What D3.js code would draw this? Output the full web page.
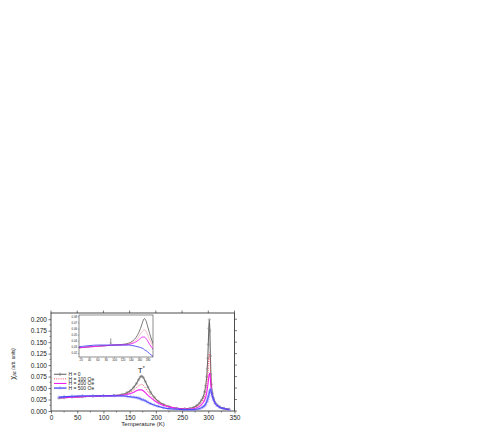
<!DOCTYPE html>
<html>
<head>
<meta charset="utf-8">
<script src="https://cdn.jsdelivr.net/npm/d3@7"></script>
<style>
  body { margin: 0; background: #fff; }
  text { font-family: Arial, "Liberation Sans", sans-serif; fill: #222; }
</style>
</head>
<body>
<svg id="chart"></svg>
<script>
// temperatures (K) shared by all four field curves
const temps = [15, 25, 40, 60, 80, 100, 120, 135, 145, 152, 158, 163, 167, 170, 173, 176, 180, 185, 190, 197,
  205, 215, 225, 240, 255, 265, 272, 278, 283, 287, 290, 293, 295, 297, 298, 299, 300, 301, 302, 303,
  304, 305, 306, 308, 310, 313, 317, 322, 330, 340];

const h0 = [0.028, 0.029, 0.030, 0.031, 0.032, 0.033, 0.034, 0.036, 0.040, 0.045, 0.052, 0.060, 0.068, 0.074, 0.076, 0.073, 0.064, 0.052, 0.041, 0.030,
  0.021, 0.014, 0.010, 0.006, 0.005, 0.006, 0.008, 0.012, 0.017, 0.024, 0.030, 0.042, 0.055, 0.075, 0.092, 0.115, 0.145, 0.180, 0.199, 0.175,
  0.120, 0.080, 0.058, 0.038, 0.028, 0.019, 0.013, 0.009, 0.006, 0.004];
const h100 = [0.029, 0.029, 0.030, 0.031, 0.032, 0.033, 0.034, 0.035, 0.038, 0.041, 0.046, 0.051, 0.055, 0.057, 0.058, 0.056, 0.050, 0.042, 0.035, 0.027,
  0.020, 0.014, 0.010, 0.006, 0.005, 0.005, 0.007, 0.010, 0.014, 0.019, 0.024, 0.033, 0.042, 0.056, 0.066, 0.080, 0.098, 0.118, 0.127, 0.118,
  0.090, 0.065, 0.050, 0.034, 0.026, 0.018, 0.012, 0.008, 0.005, 0.004];
const h200 = [0.029, 0.029, 0.030, 0.031, 0.032, 0.033, 0.033, 0.034, 0.036, 0.038, 0.041, 0.044, 0.046, 0.046, 0.046, 0.044, 0.040, 0.034, 0.029, 0.023,
  0.017, 0.012, 0.009, 0.006, 0.004, 0.004, 0.005, 0.007, 0.010, 0.014, 0.018, 0.024, 0.030, 0.040, 0.047, 0.055, 0.064, 0.074, 0.081, 0.082,
  0.070, 0.054, 0.043, 0.031, 0.024, 0.017, 0.011, 0.008, 0.005, 0.003];
const h500 = [0.030, 0.031, 0.032, 0.033, 0.033, 0.033, 0.033, 0.033, 0.032, 0.031, 0.030, 0.029, 0.028, 0.027, 0.025, 0.024, 0.022, 0.019, 0.016, 0.013,
  0.010, 0.007, 0.005, 0.004, 0.003, 0.003, 0.003, 0.004, 0.005, 0.007, 0.009, 0.012, 0.015, 0.020, 0.023, 0.027, 0.031, 0.035, 0.040, 0.044,
  0.047, 0.046, 0.041, 0.032, 0.025, 0.017, 0.012, 0.008, 0.005, 0.003];

const seriesNames = ["H = 0", "H = 100 Oe", "H = 200 Oe", "H = 500 Oe"];
const xTicks = [0, 50, 100, 150, 200, 250, 300, 350];
const yTicks = [0, 0.025, 0.05, 0.075, 0.1, 0.125, 0.15, 0.175, 0.2];
const insetXTicks = [20, 40, 60, 80, 100, 120, 140, 160, 180];
const insetYTicks = [0.02, 0.03, 0.04, 0.05, 0.06, 0.07, 0.08];

const width = 491;
const height = 436;

const svg = d3.select("#chart").attr("width", width).attr("height", height);

const series = [
  { name: seriesNames[0], values: h0, color: "#6a6a6a", width: 1.1, dash: null, marker: "cross" },
  { name: seriesNames[1], values: h100, color: "#f0506a", width: 1, dash: "1,1.2", marker: null },
  { name: seriesNames[2], values: h200, color: "#f020f0", width: 1.1, dash: null, marker: null },
  { name: seriesNames[3], values: h500, color: "#4646f5", width: 1.3, dash: null, marker: "triangle" }
];

const x = d3.scaleLinear().domain([0, 350]).range([51, 234.5]);
const y = d3.scaleLinear().domain([0, 0.2135]).range([411, 313]);

// ticks
const xAxis = svg.append("g").attr("transform", "translate(0,411)")
  .call(d3.axisBottom(x).tickValues(xTicks).tickFormat(d3.format("d")).tickSize(2.5).tickPadding(1.5));
const yAxis = svg.append("g").attr("transform", "translate(51,0)")
  .call(d3.axisLeft(y).tickValues(yTicks).tickFormat(d3.format(".3f")).tickSize(2.5).tickPadding(1.5));
[xAxis, yAxis].forEach((g) => {
  g.select(".domain").remove();
  g.selectAll("line").attr("stroke", "#222").attr("stroke-width", 0.6);
  g.selectAll("text").style("font-size", "6.5px").attr("fill", "#222");
});

// minor ticks
svg.append("g").selectAll("line")
  .data(d3.range(25, 350, 50))
  .join("line")
  .attr("x1", (d) => x(d)).attr("x2", (d) => x(d))
  .attr("y1", 411).attr("y2", 412.5)
  .attr("stroke", "#222").attr("stroke-width", 0.5);
svg.append("g").selectAll("line")
  .data(d3.range(0.0125, 0.2, 0.025))
  .join("line")
  .attr("x1", 49.5).attr("x2", 51)
  .attr("y1", (d) => y(d)).attr("y2", (d) => y(d))
  .attr("stroke", "#222").attr("stroke-width", 0.5);
// mirrored ticks on top and right
svg.append("g").selectAll("line")
  .data(xTicks)
  .join("line")
  .attr("x1", (d) => x(d)).attr("x2", (d) => x(d))
  .attr("y1", 313).attr("y2", 310.5)
  .attr("stroke", "#222").attr("stroke-width", 0.6);
svg.append("g").selectAll("line")
  .data(yTicks)
  .join("line")
  .attr("x1", 234.5).attr("x2", 237)
  .attr("y1", (d) => y(d)).attr("y2", (d) => y(d))
  .attr("stroke", "#222").attr("stroke-width", 0.6);

svg.append("rect")
  .attr("x", 51).attr("y", 313).attr("width", 183.5).attr("height", 98)
  .attr("fill", "none").attr("stroke", "#222").attr("stroke-width", 0.8);

// curves
const line = d3.line()
  .x((d, i) => x(temps[i]))
  .y((d) => y(d))
  .curve(d3.curveMonotoneX);

const curvesG = svg.append("g");
series.forEach((s) => {
  curvesG.append("path")
    .attr("d", line(s.values))
    .attr("fill", "none")
    .attr("stroke", s.color)
    .attr("stroke-width", s.width)
    .attr("stroke-dasharray", s.dash);
  if (s.marker) {
    const sym = d3.symbol()
      .type(s.marker === "cross" ? d3.symbolCross : d3.symbolTriangle)
      .size(s.marker === "cross" ? 3 : 4);
    curvesG.append("g").selectAll("path")
      .data(s.values)
      .join("path")
      .attr("transform", (d, i) => `translate(${x(temps[i])},${y(d)})`)
      .attr("d", sym)
      .attr("fill", "none")
      .attr("stroke", s.marker === "cross" ? "#888" : "#8080ff")
      .attr("stroke-width", 0.4);
  }
});

// legend
const legend = svg.append("g");
const legendY = [0.08, 0.07, 0.06, 0.05];
series.forEach((s, i) => {
  const ly = y(legendY[i]);
  legend.append("line")
    .attr("x1", 54).attr("x2", 66.5).attr("y1", ly).attr("y2", ly)
    .attr("stroke", s.color).attr("stroke-width", s.width)
    .attr("stroke-dasharray", s.dash);
  if (s.marker) {
    legend.append("path")
      .attr("transform", `translate(60,${ly})`)
      .attr("d", d3.symbol().type(s.marker === "cross" ? d3.symbolCross : d3.symbolTriangle).size(4))
      .attr("fill", "none").attr("stroke", s.marker === "cross" ? "#888" : "#8080ff").attr("stroke-width", 0.4);
  }
  legend.append("text")
    .attr("x", 68.5).attr("y", ly + 1.7)
    .style("font-size", "5px")
    .text(s.name);
});

// T* annotation
const tLabel = svg.append("text")
  .attr("x", x(172)).attr("y", y(0.082))
  .attr("text-anchor", "middle")
  .style("font-size", "8px");
tLabel.append("tspan").text("T");
tLabel.append("tspan").attr("dy", -3.5).style("font-size", "5px").text("*");

// axis titles
svg.append("text")
  .attr("x", 143).attr("y", 426)
  .attr("text-anchor", "middle")
  .style("font-size", "6px")
  .text("Temperature (K)");

const yTitle = svg.append("text")
  .attr("transform", "translate(14.5,364) rotate(-90)")
  .attr("text-anchor", "middle");
yTitle.append("tspan").style("font-size", "7.5px").text("χ");
yTitle.append("tspan").attr("dy", 1.5).style("font-size", "4.5px").text("ac");
yTitle.append("tspan").attr("dy", -1.5).style("font-size", "4.5px").style("font-style", "italic").text(" (arb. units)");

// inset: low temperature region magnified
const ix = d3.scaleLinear().domain([16, 193]).range([79, 153]);
const iy = d3.scaleLinear().domain([0.0135, 0.082]).range([357, 315]);

const inset = svg.append("g");
inset.append("rect")
  .attr("x", 79).attr("y", 315).attr("width", 74).attr("height", 42)
  .attr("fill", "#fff");

inset.append("defs").append("clipPath").attr("id", "inset-clip")
  .append("rect").attr("x", 79).attr("y", 315).attr("width", 74).attr("height", 42);

const insetLine = d3.line()
  .x((d, i) => ix(temps[i]))
  .y((d) => iy(d))
  .curve(d3.curveMonotoneX);

const insetCurves = inset.append("g").attr("clip-path", "url(#inset-clip)");
series.forEach((s) => {
  insetCurves.append("path")
    .attr("d", insetLine(s.values))
    .attr("fill", "none")
    .attr("stroke", s.color)
    .attr("stroke-width", s.dash ? 0.6 : 0.9)
    .attr("stroke-opacity", s.dash ? 0.6 : 1);
});

const ixAxis = inset.append("g").attr("transform", "translate(0,357)")
  .call(d3.axisBottom(ix).tickValues(insetXTicks).tickFormat(d3.format("d")).tickSize(1.2).tickPadding(0.8));
const iyAxis = inset.append("g").attr("transform", "translate(79,0)")
  .call(d3.axisLeft(iy).tickValues(insetYTicks).tickFormat(d3.format(".2f")).tickSize(1.2).tickPadding(0.8));
[ixAxis, iyAxis].forEach((g) => {
  g.select(".domain").remove();
  g.selectAll("line").attr("stroke", "#444").attr("stroke-width", 0.4);
  g.selectAll("text").style("font-size", "2.8px").attr("fill", "#444");
});

inset.append("rect")
  .attr("x", 79).attr("y", 315).attr("width", 74).attr("height", 42)
  .attr("fill", "none").attr("stroke", "#444").attr("stroke-width", 0.6);

// arrow in inset
inset.append("line")
  .attr("x1", ix(92)).attr("x2", ix(92))
  .attr("y1", iy(0.044)).attr("y2", iy(0.036))
  .attr("stroke", "#333").attr("stroke-width", 0.5);
inset.append("path")
  .attr("d", `M${ix(92) - 1},${iy(0.037)} L${ix(92)},${iy(0.035)} L${ix(92) + 1},${iy(0.037)}`)
  .attr("fill", "none").attr("stroke", "#333").attr("stroke-width", 0.5);
</script>
</body>
</html>
